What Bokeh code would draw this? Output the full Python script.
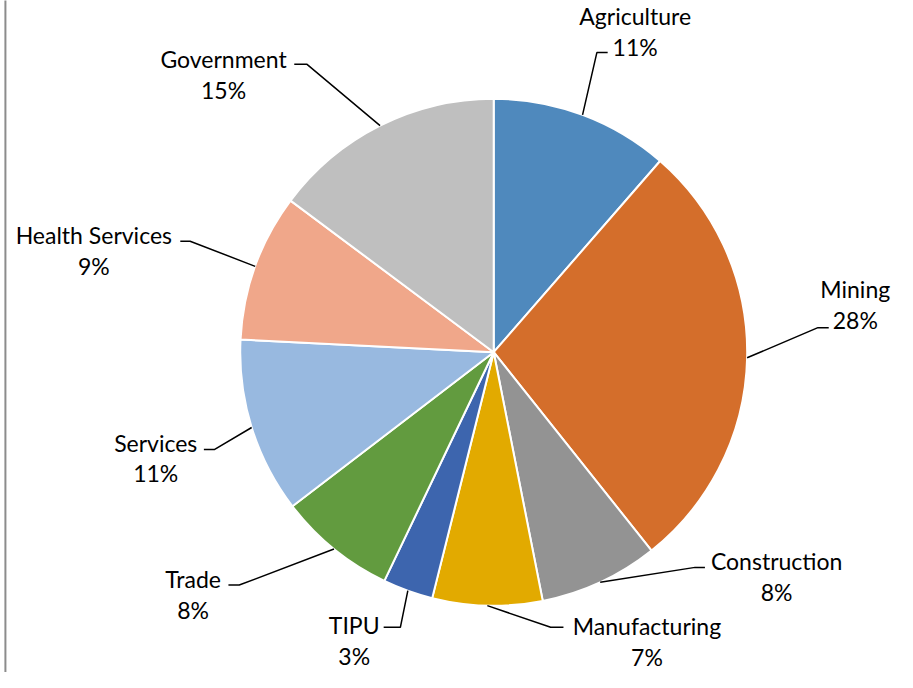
import math
from bokeh.plotting import figure
from bokeh.models import ColumnDataSource, Range1d
from bokeh.core.properties import value
from bokeh.embed import file_html
from bokeh.resources import INLINE

# ---- data ----
categories = ["Agriculture", "Mining", "Construction", "Manufacturing", "TIPU",
              "Trade", "Services", "Health Services", "Government"]
shares = [11.4, 27.9, 7.6, 7.0, 3.2, 7.5, 11.2, 9.4, 14.8]
colors = ["#4F89BD", "#D46E2B", "#939393", "#E2AA00", "#3D65AE",
          "#629B3F", "#98B9E0", "#F0A78A", "#BFBFBF"]

# ---- layout (reference picture coordinates) ----
W, H = 897, 672
REF_W, REF_H = 913, 688
CX, CY, R = 502, 362, 258
label_xy = [(646, 20), (870, 298), (790, 575), (658, 641), (360, 640),
            (196, 593), (158, 454), (95, 243), (227, 64)]
pct_dy = 31
elbows = [(607, 57, 618), (832, 337, 843), (707, 581, 717), (560, 642, 573),
          (407, 642, 390), (243, 599, 232), (218, 461, 207), (193, 249, 183),
          (312, 69, 299)]
FONT = "Lato"
FSIZE = "23px"

# equal scale on both axes: map reference width onto the figure width
scale = REF_W / W
yspan = H * scale


def Y(sy):
    return REF_H - sy


p = figure(width=W, height=H, output_backend="svg", toolbar_location=None,
           x_range=Range1d(0, REF_W), y_range=Range1d(0, yspan),
           min_border=0, outline_line_color=None, background_fill_color="white",
           border_fill_color="white")
p.axis.visible = False
p.grid.visible = False

total = sum(shares)
starts, ends, mids = [], [], []
c = 0.0
for v in shares:
    c0 = c
    c += v / total
    # clockwise from top
    starts.append(math.pi / 2 - 2 * math.pi * c)
    ends.append(math.pi / 2 - 2 * math.pi * c0)
    mids.append(math.pi / 2 - 2 * math.pi * (c0 + c) / 2)

src = ColumnDataSource(dict(cat=categories, start=starts, end=ends, color=colors,
                            x=[CX] * len(shares), y=[Y(CY)] * len(shares)))
p.wedge(x="x", y="y", radius=R, radius_units="data", start_angle="start",
        end_angle="end", fill_color="color", line_color="white", line_width=2,
        source=src)

# leader lines
xs, ys = [], []
for m, (ex, ey, tx) in zip(mids, elbows):
    sx = CX + R * math.cos(m)
    sy = Y(CY) + R * math.sin(m)
    xs.append([sx, ex, tx])
    ys.append([sy, Y(ey), Y(ey)])
p.multi_line(xs=xs, ys=ys, line_color="black", line_width=1.5)

# labels
pcts = [f"{int(v / total * 100 + 0.5)}%" for v in shares]
p.text(x=[lx for lx, ly in label_xy], y=[Y(ly) for lx, ly in label_xy],
       text=categories, text_align="center", text_baseline="middle",
       text_font=value(FONT), text_font_size=FSIZE, text_color="black")
p.text(x=[lx for lx, ly in label_xy], y=[Y(ly + pct_dy) for lx, ly in label_xy],
       text=pcts, text_align="center", text_baseline="middle",
       text_font=value(FONT), text_font_size=FSIZE, text_color="black")

# left frame border
p.segment(x0=[5], y0=[0], x1=[5], y1=[REF_H], line_color="#8C8C8C", line_width=2)

open("out.html", "w").write(file_html(p, INLINE))
